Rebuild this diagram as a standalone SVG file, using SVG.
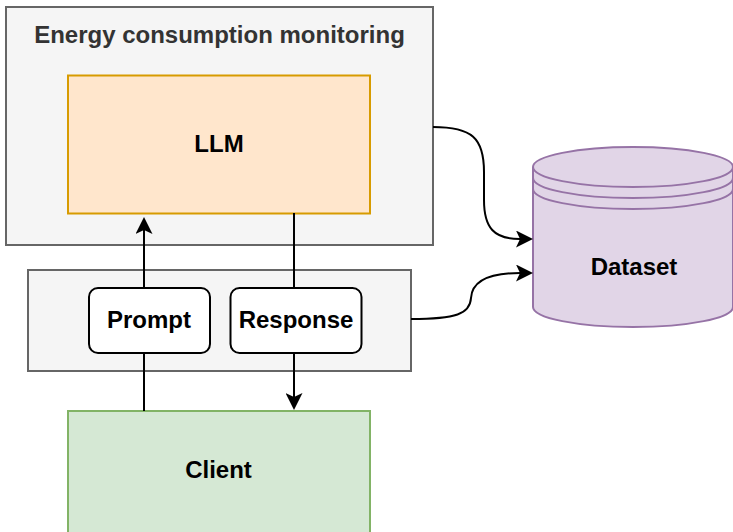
<svg xmlns="http://www.w3.org/2000/svg" width="733" height="532" viewBox="0 0 733 532">
<style>
text{font-family:"Liberation Sans",Arial,sans-serif;font-weight:bold;font-size:24px;text-anchor:middle;fill:#000}
.grey{fill:#f5f5f5;stroke:#666666;stroke-width:2}
.edge{fill:none;stroke:#000;stroke-width:2}
.pill{fill:#ffffff;stroke:#000;stroke-width:2}
</style>
<defs>
<marker id="arr" viewBox="0 0 17 17" markerWidth="17" markerHeight="17" refX="4" refY="8.5" orient="auto" markerUnits="userSpaceOnUse">
<path d="M17,8.5 L0,0 L4,8.5 L0,17 Z" fill="#000"/>
</marker>
</defs>
<rect width="733" height="532" fill="#ffffff"/>
<g id="monitoring">
<rect class="grey" x="6" y="7" width="427" height="238"/>
<text x="219.5" y="42.5" style="fill:#333333">Energy consumption monitoring</text>
</g>
<g id="llm">
<rect x="68" y="75.5" width="302" height="138" fill="#ffe6cc" stroke="#d79b00" stroke-width="2"/>
<text x="219" y="151.5">LLM</text>
</g>
<g id="gateway">
<rect class="grey" x="28" y="270" width="383" height="101"/>
</g>
<g id="client">
<rect x="68" y="411" width="302" height="135" fill="#d5e8d4" stroke="#82b366" stroke-width="2"/>
<text x="218.5" y="478">Client</text>
</g>
<g id="dataset">
<path d="M533,167 A100,20 0 0 1 733,167 L733,307 A100,20 0 0 1 533,307 Z" fill="#e1d5e7" stroke="#9673a6" stroke-width="2"/>
<path d="M533,167 A100,20 0 0 0 733,167 M533,178 A100,20 0 0 0 733,178 M533,189 A100,20 0 0 0 733,189" fill="none" stroke="#9673a6" stroke-width="2"/>
<text x="634" y="275">Dataset</text>
</g>
<g id="connectors">
<path class="edge" d="M144,411 L144,353"/>
<path class="edge" d="M144,288 L144,230" marker-end="url(#arr)"/>
<path class="edge" d="M294,213 L294,288"/>
<path class="edge" d="M294,353 L294,397" marker-end="url(#arr)"/>
<path class="edge" d="M433,127 C472,127 484,138 484,172 L484,200 C484,228 494,239 520,239" marker-end="url(#arr)"/>
<path class="edge" d="M411,319 C456,319 470,314 471,298 C472,282 488,273 520,273" marker-end="url(#arr)"/>
</g>
<g id="prompt">
<rect class="pill" x="89" y="288" width="121" height="65" rx="9"/>
<text x="149" y="327.5">Prompt</text>
</g>
<g id="response">
<rect class="pill" x="230.5" y="288" width="131" height="65" rx="9"/>
<text x="296" y="327.5">Response</text>
</g>
</svg>
